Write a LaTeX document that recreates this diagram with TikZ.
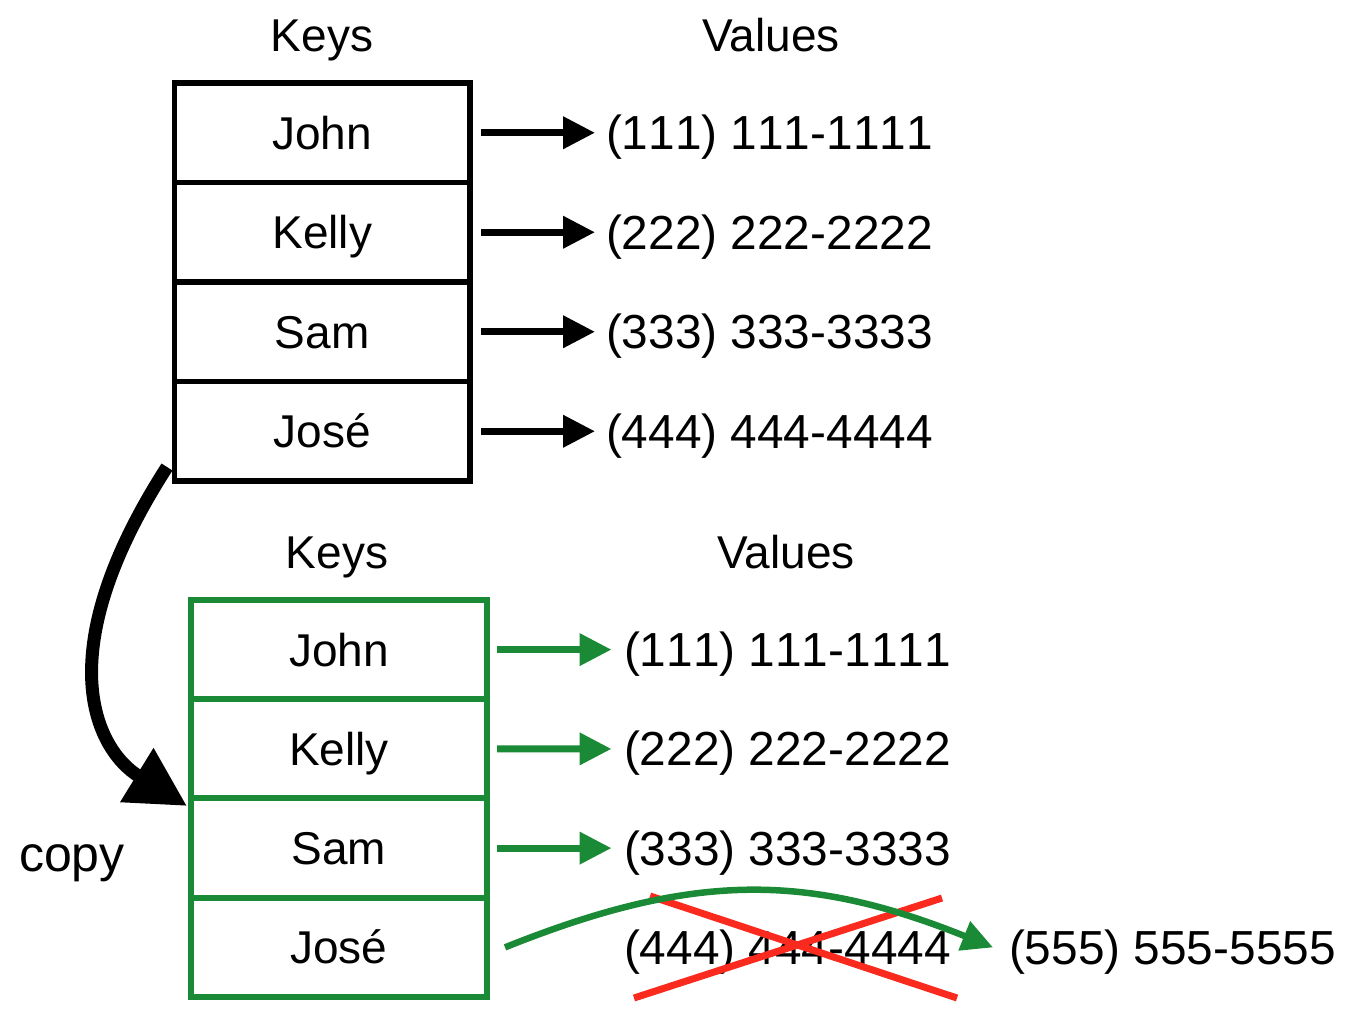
\documentclass[tikz,border=0pt]{standalone}
\usepackage{fontspec}
\setmainfont{Liberation Sans}
\newfontfamily\numfont{Liberation Sans}[Kerning=Off]
\usetikzlibrary{arrows.meta,calc}
\definecolor{kgreen}{RGB}{26,138,54}
\definecolor{kred}{RGB}{250,42,30}
\begin{document}
\begin{tikzpicture}[x=1pt,y=-1pt,
  txt/.style={font=\fontsize{46}{55}\selectfont, text height=33pt, text depth=0pt, inner sep=0pt, outer sep=0pt},
  keycell/.style={txt, draw, line width=5.5pt, minimum width=295.5pt, minimum height=99.5pt},
  gkeycell/.style={keycell, draw=kgreen, line width=6pt, minimum width=296pt, minimum height=99.25pt},
  val/.style={txt, font=\numfont\fontsize{47.8}{56}\selectfont, text height=34pt, anchor=west},
  karrow/.style={line width=7pt, -{Triangle[length=32pt,width=31pt]}},
  garrow/.style={karrow, color=kgreen},
  copyarrow/.style={line width=13pt, -{Triangle[length=59pt,width=60pt]}},
  strike/.style={line width=7pt, color=kred}]
\useasboundingbox (0,0) rectangle (1346,1010);
% top table
\node[txt] (k1) at (322,35) {Keys};
\node[txt] (h1) at (771,35) {Values};
\node[keycell] (tjohn) at (322.25,132.75) {John};
\node[keycell, anchor=north] (tkelly) at (tjohn.south) {Kelly};
\node[keycell, anchor=north] (tsam) at (tkelly.south) {Sam};
\node[keycell, anchor=north] (tjose) at (tsam.south) {José};
\node[val] (v1) at (606,132.75) {(111) 111-1111};
\node[val] (v2) at (606,232.25) {(222) 222-2222};
\node[val] (v3) at (606,331.75) {(333) 333-3333};
\node[val] (v4) at (606,431.25) {(444) 444-4444};
\draw[karrow] ([xshift=11pt]tjohn.east) -- ([xshift=-11pt]v1.west);
\draw[karrow] ([xshift=11pt]tkelly.east) -- ([xshift=-11pt]v2.west);
\draw[karrow] ([xshift=11pt]tsam.east) -- ([xshift=-11pt]v3.west);
\draw[karrow] ([xshift=11pt]tjose.east) -- ([xshift=-11pt]v4.west);
% bottom table
\node[txt] (k2) at (337,552) {Keys};
\node[txt] (h2) at (786,552) {Values};
\node[gkeycell] (gjohn) at (339,649.6) {John};
\node[gkeycell, anchor=north] (gkelly) at (gjohn.south) {Kelly};
\node[gkeycell, anchor=north] (gsam) at (gkelly.south) {Sam};
\node[gkeycell, anchor=north] (gjose) at (gsam.south) {José};
\node[val] (w1) at (624,649.6) {(111) 111-1111};
\node[val] (w2) at (624,748.9) {(222) 222-2222};
\node[val] (w3) at (624,848.1) {(333) 333-3333};
\node[val] (w4) at (624,947.4) {(444) 444-4444};
\node[val] (w5) at (1009,947.4) {(555) 555-5555};
\draw[garrow] ([xshift=10pt]gjohn.east) -- ([xshift=-12.5pt]w1.west);
\draw[garrow] ([xshift=10pt]gkelly.east) -- ([xshift=-12.5pt]w2.west);
\draw[garrow] ([xshift=10pt]gsam.east) -- ([xshift=-12.5pt]w3.west);
% strike-out
\draw[strike] (650,896) -- (957,998);
\draw[strike] (634,998) -- (942,898);
% new value arrow
\draw[line width=6.5pt, color=kgreen, -{Triangle[length=31pt,width=30pt]}]
  ([xshift=18pt]gjose.east) .. controls +(187,-75) and +(-187,-75) .. ([xshift=-16pt]w5.west);
% copy arrow
\node[txt, font=\fontsize{50}{60}\selectfont, text height=36pt] (copy) at (72,853) {copy};
\draw[copyarrow] ([shift={(-7.5,-14)}]tjose.south west) .. controls +(-119,185) and +(-92.5,-57) .. ([shift={(-4,7.5)}]gsam.north west);
\end{tikzpicture}
\end{document}
